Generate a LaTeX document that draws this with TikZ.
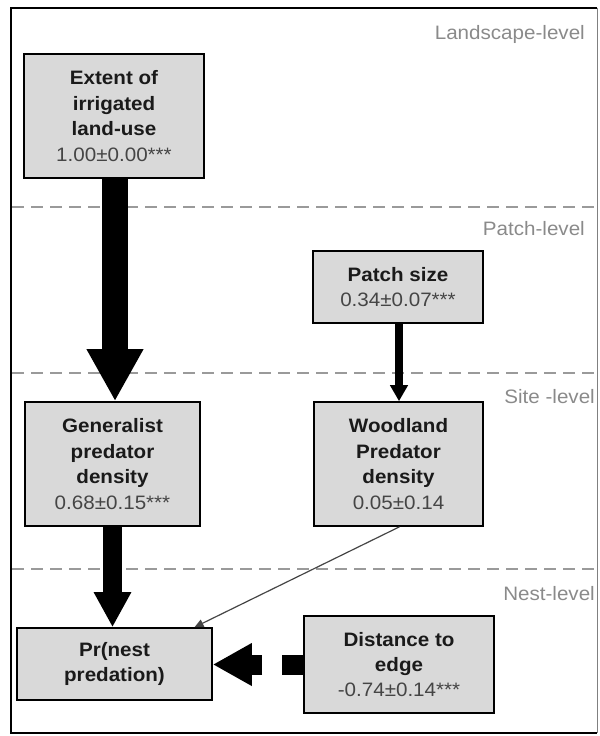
\documentclass[tikz,border=0pt]{standalone}
\usepackage{fontspec}
\setmainfont{Liberation Sans}[FakeStretch=1.06]
\usetikzlibrary{arrows.meta,calc}
\definecolor{boxfill}{HTML}{D9D9D9}
\definecolor{titlecol}{HTML}{1A1A1A}
\definecolor{numcol}{HTML}{454545}
\definecolor{levelcol}{HTML}{8A8A8A}
\definecolor{dashcol}{HTML}{9A9A9A}
\newcommand\coef[1]{{\mdseries\color{numcol}#1}}
\begin{document}
\begin{tikzpicture}[x=1bp,y=-1bp,
  box/.style={draw=black, line width=1.6bp, fill=boxfill, inner sep=0pt,
    align=center, text=titlecol, font=\fontsize{19.5}{25.5}\selectfont\bfseries},
  level/.style={anchor=base east, text=levelcol, inner sep=0pt,
    font=\fontsize{19.5}{22}\selectfont},
  divider/.style={draw=dashcol, line width=1.8bp, dash pattern=on 12bp off 7bp},
  bigarrow/.style={line width=#1, draw=black}
]
\useasboundingbox (0,0) rectangle (600,736);

% outer frame
\draw[line width=1.5bp] (597,8) -- (11,8) -- (11,733) -- (597,733);
\draw[draw=gray, line width=0.8bp] (597,8) -- (597,733);

% level dividers
\draw[divider] (12,207) -- (597,207);
\draw[divider] (12,373) -- (597,373);
\draw[divider] (12,569) -- (597,569);

% level labels
\node[level] (lLand) at (585,40) {Landscape-level};
\node[level] (lPatch) at (585,235) {Patch-level};
\node[level] (lSite) at (595,403) {Site -level};
\node[level] (lNest) at (595,600) {Nest-level};

% variables
\node[box, minimum width=180bp, minimum height=124bp] (extent) at (114,116)
  {Extent of\\irrigated\\land-use\\\coef{1.00±0.00***}};
\node[box, minimum width=170bp, minimum height=72bp] (patch) at (398,287)
  {Patch size\\\coef{0.34±0.07***}};
\node[box, minimum width=175bp, minimum height=124bp] (gen) at (112.5,464)
  {Generalist\\predator\\density\\\coef{0.68±0.15***}};
\node[box, minimum width=169bp, minimum height=124bp] (wood) at (398.5,464)
  {Woodland\\Predator\\density\\\coef{0.05±0.14}};
\node[box, minimum width=195bp, minimum height=72bp] (pr) at (114.5,664)
  {Pr(nest\\predation)};
\node[box, minimum width=190bp, minimum height=97bp] (dist) at (399,664.5)
  {Distance to\\edge\\\coef{-0.74±0.14***}};

% paths
\draw[bigarrow=26bp, -{Triangle[length=52bp, width=53bp]}]
  ([xshift=1bp]extent.south) -- ([xshift=1bp]extent.south |- gen.north);
\draw[bigarrow=19bp, -{Triangle[length=35bp, width=35bp]}]
  (gen.south) -- (gen.south |- pr.north);
\draw[bigarrow=8bp, -{Triangle[length=16bp, width=17bp]}]
  ([xshift=1bp]patch.south) -- ([xshift=1bp]patch.south |- wood.north);
\draw[draw=numcol, line width=1.2bp, -{Triangle[length=9bp, width=8bp]}]
  ([xshift=1bp]wood.south) -- ([xshift=80bp]pr.north);
\coordinate (gapR) at ([xshift=-21bp]dist.west);
\coordinate (gapL) at ([xshift=-41bp]dist.west);
\draw[bigarrow=20bp] (dist.west) -- (gapR);
\draw[bigarrow=20bp, -{Triangle[length=39bp, width=40bp]}]
  (gapL) -- (gapL -| pr.east);
\end{tikzpicture}
\end{document}
